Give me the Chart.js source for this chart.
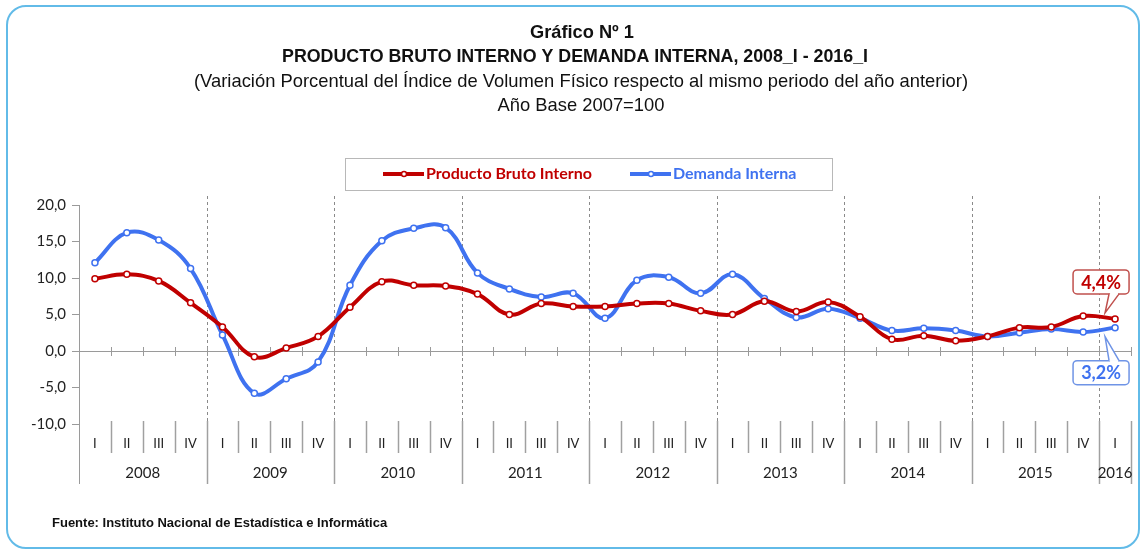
<!DOCTYPE html>
<html lang="es">
<head>
<meta charset="UTF-8">
<title>Gráfico Nº 1</title>
<script src="https://cdn.jsdelivr.net/npm/chart.js"></script>
<style>
  body { margin: 0; background: #fff; }
  #marco { position: absolute; left: 6px; top: 5px; width: 1130px; height: 540px; border: 2px solid #62bbe8; border-radius: 20px; }
  #grafico { position: absolute; left: 0; top: 0; }
</style>
</head>
<body>
<div id="marco"></div>
<canvas id="grafico" width="1146" height="554"></canvas>
<script>
  // Datos (variación % trimestral)
  const anios = ["2008", "2009", "2010", "2011", "2012", "2013", "2014", "2015", "2016"];
  const trimestres = [
    "I", "II", "III", "IV", "I", "II", "III", "IV", "I", "II", "III", "IV",
    "I", "II", "III", "IV", "I", "II", "III", "IV", "I", "II", "III", "IV",
    "I", "II", "III", "IV", "I", "II", "III", "IV", "I"
  ];
  const pbi = [
    9.9, 10.5, 9.6, 6.6, 3.3, -0.8, 0.4, 2.0, 6.0, 9.5, 9.0, 8.9,
    7.8, 5.0, 6.5, 6.1, 6.1, 6.5, 6.5, 5.5, 5.0, 6.8, 5.4, 6.7,
    4.7, 1.6, 2.1, 1.4, 2.0, 3.2, 3.3, 4.8, 4.4
  ];
  const demanda = [
    12.1, 16.2, 15.2, 11.3, 2.2, -5.8, -3.8, -1.5, 9.0, 15.1, 16.8, 16.9,
    10.7, 8.5, 7.4, 7.9, 4.5, 9.7, 10.1, 7.9, 10.5, 7.2, 4.6, 5.8,
    4.5, 2.8, 3.1, 2.8, 2.0, 2.5, 3.0, 2.6, 3.2
  ];
  const etiquetas = trimestres.map((t, i) => anios[Math.floor(i / 4)] + "_" + t);

  const ROJO = "#c00000";
  const AZUL = "#3f72f0";
  const coma = v => v.toFixed(1).replace(".", ",");

  // Ejes de años/trimestres, líneas punteadas y eje 0
  const ejes = {
    id: "ejes",
    beforeDatasetsDraw(chart) {
      const { ctx, chartArea: a, scales: { x, y } } = chart;
      const n = etiquetas.length;
      const w = (a.right - a.left) / n;
      const y0 = y.getPixelForValue(0);
      ctx.save();
      // líneas punteadas de año
      ctx.strokeStyle = "#8a8a8a";
      ctx.lineWidth = 1;
      ctx.setLineDash([3, 3]);
      for (let k = 4; k < n; k += 4) {
        const px = Math.round(a.left + k * w) + 0.5;
        ctx.beginPath(); ctx.moveTo(px, 196); ctx.lineTo(px, 421); ctx.stroke();
      }
      ctx.setLineDash([]);
      // eje en 0
      ctx.strokeStyle = "#9a9a9a";
      ctx.beginPath(); ctx.moveTo(a.left, y0 + 0.5); ctx.lineTo(a.right, y0 + 0.5); ctx.stroke();
      for (let k = 1; k <= n; k++) {
        const px = Math.round(a.left + k * w) + 0.5;
        ctx.beginPath(); ctx.moveTo(px, y0 - 4); ctx.lineTo(px, y0 + 5); ctx.stroke();
      }
      // prolongación del eje Y
      ctx.beginPath(); ctx.moveTo(a.left + 0.5, a.bottom); ctx.lineTo(a.left + 0.5, 484); ctx.stroke();
      // separadores inferiores
      ctx.strokeStyle = "#a0a0a0";
      ctx.lineWidth = 1.5;
      for (let k = 1; k <= n; k++) {
        const px = Math.round(a.left + k * w) + 0.5;
        const fin = (k % 4 === 0 || k === n) ? 484 : 453;
        ctx.beginPath(); ctx.moveTo(px, 421); ctx.lineTo(px, fin); ctx.stroke();
      }
      // etiquetas
      ctx.fillStyle = "#222";
      ctx.textAlign = "center";
      ctx.textBaseline = "middle";
      ctx.font = "13px Lato";
      trimestres.forEach((t, i) => ctx.fillText(t, x.getPixelForValue(i), 444));
      ctx.font = "15px Lato";
      anios.forEach((an, j) => {
        const ini = j * 4, fin = Math.min(ini + 4, n);
        const cx = a.left + (ini + fin) / 2 * w;
        ctx.fillText(an, cx, 473);
      });
      ctx.restore();
    },
    afterDraw(chart) {
      const { ctx } = chart;
      ctx.save();
      ctx.fillStyle = "#111";
      ctx.textAlign = "center";
      ctx.textBaseline = "middle";
      ctx.font = "bold 19px 'Liberation Sans'";
      ctx.fillText("Gráfico Nº 1", 582, 33, 104);
      ctx.fillText("PRODUCTO BRUTO INTERNO Y DEMANDA INTERNA, 2008_I - 2016_I", 575, 57, 586);
      ctx.font = "19px 'Liberation Sans'";
      ctx.fillText("(Variación Porcentual del Índice de Volumen Físico respecto al mismo periodo del año anterior)", 581, 82, 774);
      ctx.fillText("Año Base 2007=100", 581, 106, 167);

      // leyenda
      ctx.strokeStyle = "#b8b8b8";
      ctx.lineWidth = 1;
      ctx.strokeRect(345.5, 158.5, 487, 32);
      const items = [[383, 426], [630, 673]];
      chart.data.datasets.forEach((ds, i) => {
        const [lx, tx] = items[i];
        ctx.strokeStyle = ds.borderColor;
        ctx.lineWidth = 4;
        ctx.beginPath(); ctx.moveTo(lx, 174); ctx.lineTo(lx + 41, 174); ctx.stroke();
        ctx.fillStyle = "#fff";
        ctx.lineWidth = 1.5;
        ctx.beginPath(); ctx.arc(lx + 21, 174, 2.5, 0, Math.PI * 2); ctx.fill(); ctx.stroke();
        ctx.fillStyle = ds.borderColor;
        ctx.textAlign = "left";
        ctx.font = "bold 16px Lato";
        ctx.fillText(ds.label, tx, 174);
      });

      // rótulos del último valor
      const caja = (i, dy, tipDy, col, borde) => {
        const p = chart.getDatasetMeta(i).data[pbi.length - 1];
        const v = chart.data.datasets[i].data[pbi.length - 1];
        const bx = p.x - 42, by = p.y + dy, bw = 56, bh = 24;
        ctx.fillStyle = "#fff";
        ctx.strokeStyle = borde;
        ctx.lineWidth = 1.5;
        ctx.beginPath();
        ctx.roundRect(bx, by, bw, bh, 4);
        ctx.fill(); ctx.stroke();
        // cola
        const baseY = dy < 0 ? by + bh : by;
        ctx.beginPath();
        ctx.moveTo(p.x - 6, baseY);
        ctx.lineTo(p.x - 10, p.y + tipDy);
        ctx.lineTo(p.x + 4, baseY);
        ctx.fill(); ctx.stroke();
        ctx.fillStyle = "#fff";
        ctx.fillRect(p.x - 5, baseY + (dy < 0 ? -1.5 : -0.5), 8, 2);
        ctx.fillStyle = col;
        ctx.textAlign = "center";
        ctx.font = "bold 18px Lato";
        ctx.fillText(coma(v) + "%", bx + bw / 2, by + bh / 2 + 1);
      };
      caja(0, -49, -6, ROJO, "#c0504d");
      caja(1, 33, 9, AZUL, "#6f94e6");

      // fuente
      ctx.fillStyle = "#111";
      ctx.textAlign = "left";
      ctx.font = "bold 13px 'Liberation Sans'";
      ctx.fillText("Fuente: Instituto Nacional de Estadística e Informática", 52, 523, 366);
      ctx.restore();
    }
  };

  const ctx = document.getElementById("grafico").getContext("2d");
  new Chart(ctx, {
    type: "line",
    data: {
      labels: etiquetas,
      datasets: [
        {
          label: "Producto Bruto Interno", data: pbi,
          borderColor: ROJO, backgroundColor: "#fff", borderWidth: 4,
          pointRadius: 3, pointBorderWidth: 1.5, pointBackgroundColor: "#fff", pointBorderColor: ROJO,
          tension: 0.4, order: 1
        },
        {
          label: "Demanda Interna", data: demanda,
          borderColor: AZUL, backgroundColor: "#fff", borderWidth: 4,
          pointRadius: 3, pointBorderWidth: 1.5, pointBackgroundColor: "#fff", pointBorderColor: AZUL,
          tension: 0.4, order: 2
        }
      ]
    },
    options: {
      responsive: false,
      animation: false,
      layout: { padding: { top: 205, bottom: 130, left: 0, right: 15 } },
      plugins: { legend: { display: false }, tooltip: { enabled: false } },
      scales: {
        x: { display: false, offset: true },
        y: {
          min: -10, max: 20,
          ticks: { stepSize: 5, callback: v => coma(v), color: "#222", font: { family: "Lato", size: 15 }, padding: 6 },
          grid: { drawOnChartArea: false, tickLength: 7, color: "#9a9a9a" },
          border: { color: "#9a9a9a" },
          afterFit: s => { s.width = 79; }
        }
      }
    },
    plugins: [ejes]
  });
</script>
</body>
</html>
